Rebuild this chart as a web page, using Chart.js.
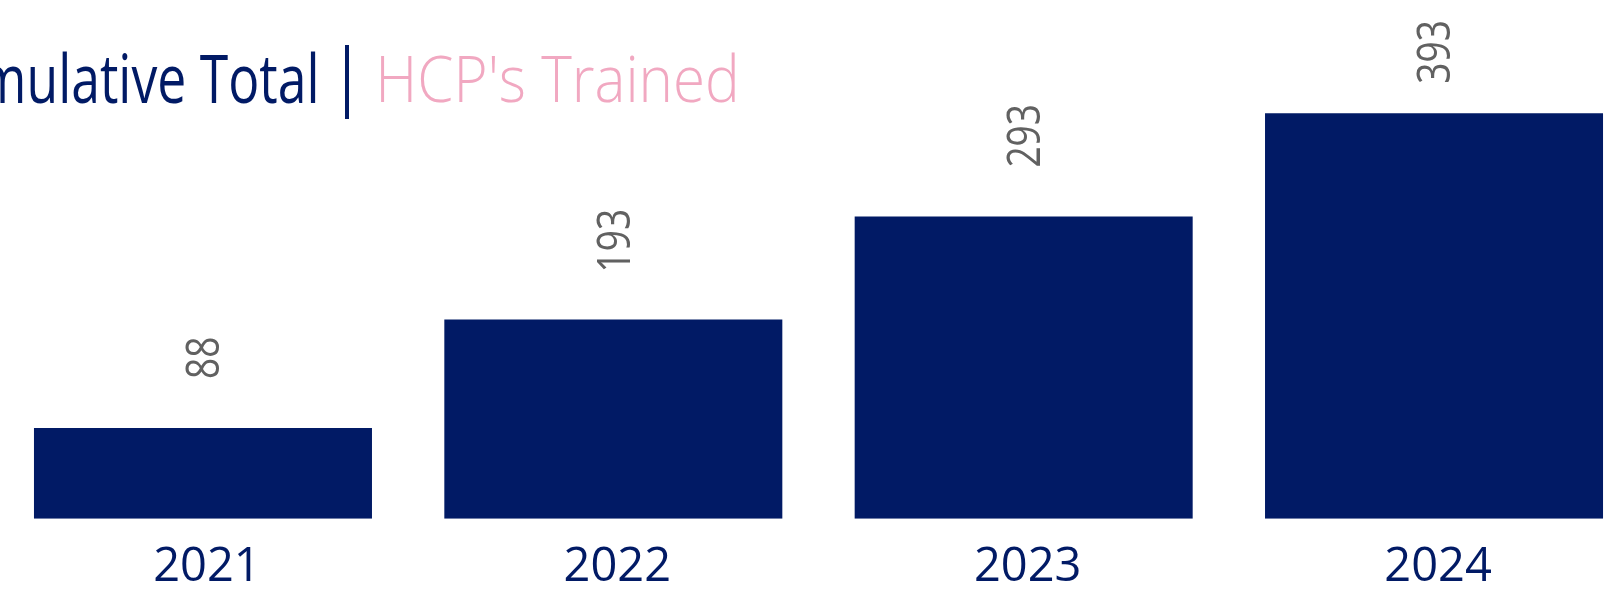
<!DOCTYPE html>
<html><head><meta charset="utf-8">
<script src="https://cdn.jsdelivr.net/npm/chart.js@4.4.1/dist/chart.umd.min.js"></script>
<style>
html,body{margin:0;padding:0;background:#fff;overflow:hidden;width:1614px;height:600px;}
#wrap{position:absolute;left:-20px;top:0;width:1660px;height:600px;}
</style></head><body>
<div id="wrap"><canvas id="chart"></canvas></div>
<script>
// ---- data ----
const categories = ['2021', '2022', '2023', '2024'];
const hcpsTrained = [88, 193, 293, 393];
const titleMain = 'Cumulative Total';
const titleSub = "HCP's Trained";
const yAxisMax = 500;

// ---- style ----
const NAVY = '#011a65';
const PINK = '#f1a8c1';
const GREY = '#616161';
const FONT = '"Open Sans", "Noto Sans", sans-serif';
const SHIFT = 20; // canvas offset to the left of the page

const titlePlugin = {
  id: 'splitTitle',
  afterDraw(chart) {
    const ctx = chart.ctx;
    ctx.save();
    ctx.font = '400 67px ' + FONT;
    ctx.fillStyle = NAVY;
    ctx.textAlign = 'right';
    ctx.textBaseline = 'alphabetic';
    const mt = ctx.measureText('Total');
    const sx1 = 116 / (mt.actualBoundingBoxLeft + mt.actualBoundingBoxRight);
    const m1 = ctx.measureText(titleMain);
    ctx.save();
    ctx.translate(315.7 + SHIFT, 102.7);
    ctx.scale(sx1, 1);
    ctx.fillText(titleMain, -m1.actualBoundingBoxRight, 0);
    ctx.restore();
    ctx.fillRect(345 + SHIFT, 45, 4, 74);
    ctx.font = '300 65px ' + FONT;
    ctx.fillStyle = PINK;
    ctx.textAlign = 'left';
    const m2 = ctx.measureText(titleSub);
    const sx2 = 354 / (m2.actualBoundingBoxLeft + m2.actualBoundingBoxRight);
    ctx.save();
    ctx.translate(380.7 + SHIFT, 102.2);
    ctx.scale(sx2, 1);
    ctx.fillText(titleSub, m2.actualBoundingBoxLeft, 0);
    ctx.restore();
    ctx.restore();
  }
};

const labelPlugin = {
  id: 'barLabels',
  afterDatasetsDraw(chart) {
    const ctx = chart.ctx;
    const meta = chart.getDatasetMeta(0);
    const size = 45.5;
    ctx.save();
    ctx.font = '400 ' + size + 'px ' + FONT;
    ctx.fillStyle = GREY;
    ctx.textAlign = 'left';
    ctx.textBaseline = 'alphabetic';
    const digitW = ctx.measureText('000').width / 3;
    const sx = 21.2 / digitW;
    meta.data.forEach((bar, i) => {
      const txt = String(chart.data.datasets[0].data[i]);
      const m = ctx.measureText(txt);
      const inkLen = (m.actualBoundingBoxLeft + m.actualBoundingBoxRight) * sx;
      let anchor = bar.y - 50.5;
      if (anchor - inkLen < 21.7) anchor = 21.7 + inkLen;
      ctx.save();
      ctx.translate(bar.x, anchor);
      ctx.rotate(-Math.PI / 2);
      ctx.scale(sx, 1);
      ctx.fillText(txt, m.actualBoundingBoxLeft, size * 0.357);
      ctx.restore();
    });
    ctx.restore();
  }
};

function build() {
  new Chart(document.getElementById('chart'), {
    type: 'bar',
    data: {
      labels: categories,
      datasets: [{
        data: hcpsTrained,
        backgroundColor: NAVY,
        borderWidth: 0,
        categoryPercentage: 1,
        barPercentage: 0.8237
      }]
    },
    options: {
      responsive: true,
      maintainAspectRatio: false,
      animation: false,
      layout: { padding: { left: 17.8, right: 0.8, top: 2.95, bottom: 0 } },
      plugins: { legend: { display: false }, tooltip: { enabled: false }, title: { display: false } },
      scales: {
        x: {
          grid: { display: false, drawTicks: false },
          border: { display: false },
          ticks: { color: NAVY, font: { family: FONT, size: 47, weight: '400' }, padding: 20.4, labelOffset: 4, maxRotation: 0, autoSkip: false },
          afterFit(scale) { scale.height = 81.3; }
        },
        y: { display: false, min: 0, max: yAxisMax }
      }
    },
    plugins: [labelPlugin, titlePlugin]
  });
}
Promise.all([
  document.fonts.load('400 48px "Open Sans"'),
  document.fonts.load('300 65px "Open Sans"')
]).then(build, build);
</script>
</body></html>
